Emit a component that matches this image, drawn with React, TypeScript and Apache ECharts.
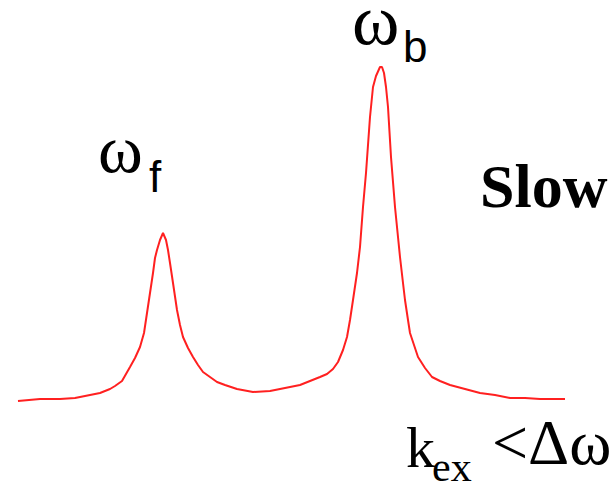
import React, { useEffect, useRef } from "react";
import * as echarts from "echarts";

// frequency (arbitrary units, left to right)
const freq = [0, 22, 42, 57, 67, 82, 92, 97, 104, 112, 117, 122, 126, 129, 132, 135, 137, 139, 142, 145, 148, 150, 152, 155, 159, 162, 165, 170, 175, 180, 185, 192, 199, 207, 219, 235, 252, 272, 282, 292, 302, 309, 315, 320, 325, 329, 332, 335, 339, 342, 345, 348, 350, 352, 355, 358, 362, 364, 366, 368, 370, 373, 375, 377, 380, 382, 385, 387, 390, 392, 396, 400, 407, 414, 422, 432, 447, 462, 477, 492, 507, 522, 547];
// signal intensity
const intensity = [0, 2, 2, 3, 5, 8, 12, 15, 20, 34, 43, 54, 68, 88, 108, 128, 143, 151, 161, 168, 161, 151, 138, 118, 91, 76, 64, 53, 44, 36, 29, 24, 19, 16, 12, 9, 10, 14, 16, 20, 24, 27, 32, 39, 51, 64, 81, 101, 128, 154, 194, 228, 256, 284, 314, 325, 334, 334, 328, 314, 294, 244, 219, 194, 164, 144, 118, 101, 81, 68, 56, 44, 33, 24, 20, 16, 12, 8, 6, 3, 3, 2, 2];

const labels = {
  free: "ω",
  freeSub: "f",
  bound: "ω",
  boundSub: "b",
  regime: "Slow",
  rate: "k",
  rateSub: "ex",
  condition: "<Δω",
};

export default function App() {
  const ref = useRef<HTMLDivElement>(null);
  useEffect(() => {
    if (!ref.current) return;
    const chart = echarts.init(ref.current, undefined, { renderer: "svg" });
    const serif = "'Liberation Serif', 'Times New Roman', serif";
    const sans = "'Liberation Sans', Arial, sans-serif";
    chart.setOption({
      animation: false,
      backgroundColor: "#ffffff",
      grid: { left: 18, top: 67, width: 547, height: 334 },
      xAxis: { type: "value", min: 0, max: 547, show: false },
      yAxis: { type: "value", min: 0, max: 334, show: false },
      series: [
        {
          type: "line",
          data: freq.map((f, i) => [f, intensity[i]]),
          showSymbol: false,
          smooth: false,
          lineStyle: { color: "#ff2020", width: 2 },
        },
      ],
      graphic: [
        { type: "text", left: 98, top: 115, style: { text: labels.free, font: `68px ${serif}`, fill: "#000" } },
        { type: "text", left: 149, top: 154, style: { text: labels.freeSub, font: `44px ${sans}`, fill: "#000" } },
        { type: "text", left: 352, top: -16, style: { text: labels.bound, font: `72px ${serif}`, fill: "#000" } },
        { type: "text", left: 403, top: 24, style: { text: labels.boundSub, font: `44px ${sans}`, fill: "#000" } },
        { type: "text", left: 480, top: 155, style: { text: labels.regime, font: `bold 62px ${serif}`, fill: "#000" } },
        { type: "text", left: 406, top: 418, style: { text: labels.rate, font: `58px ${serif}`, fill: "#000" } },
        { type: "text", left: 432, top: 446, style: { text: labels.rateSub, font: `42px ${serif}`, fill: "#000" } },
        { type: "text", left: 492, top: 410, style: { text: labels.condition, font: `64px ${serif}`, fill: "#000" } },
      ],
    });
    return () => chart.dispose();
  }, []);
  return (
    <div
      ref={ref}
      style={{ position: "fixed", left: 0, top: 0, width: 614, height: 486 }}
    />
  );
}
